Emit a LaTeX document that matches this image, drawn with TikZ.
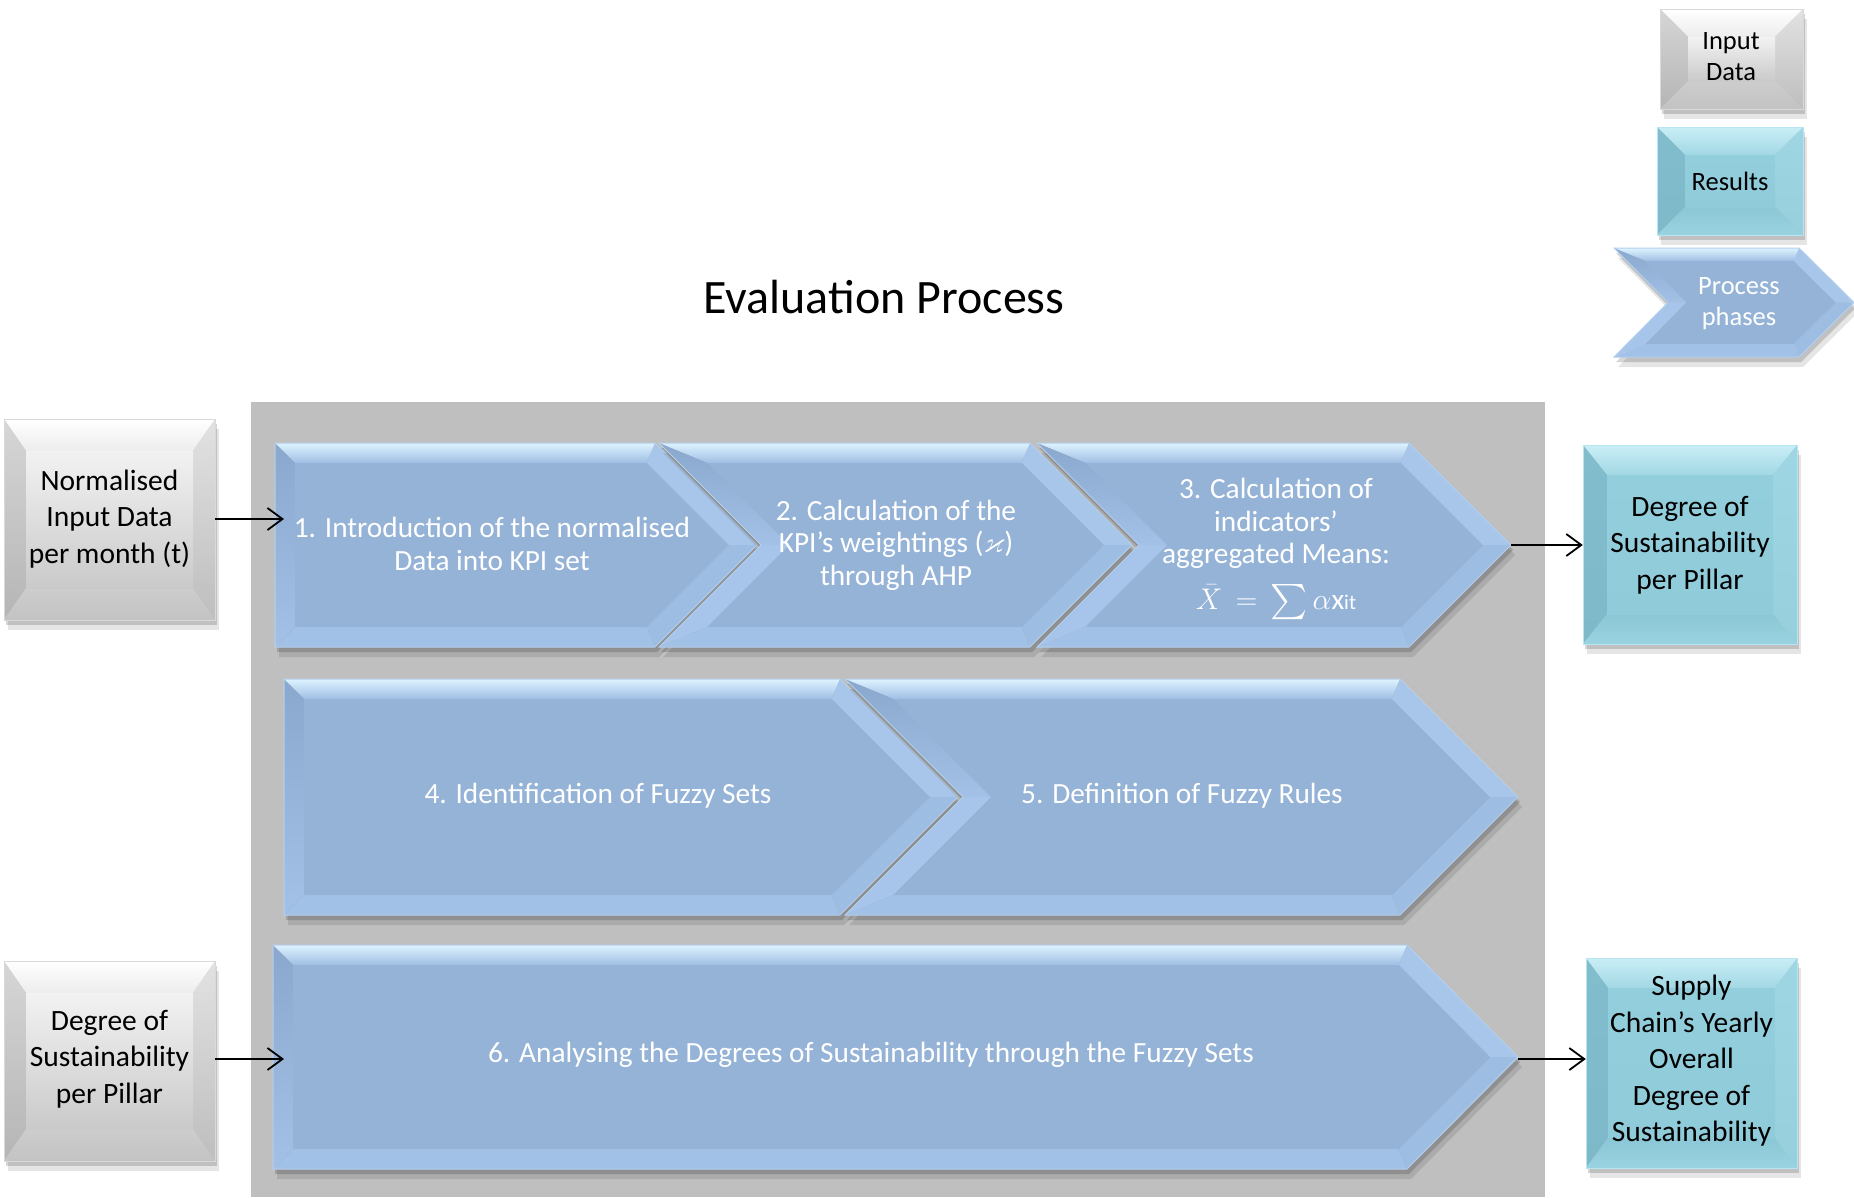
\documentclass[tikz,border=0pt]{standalone}
\usepackage{fontspec}
\setmainfont{Carlito}
\usepackage{amssymb}
\usetikzlibrary{arrows.meta,calc}

\definecolor{panel}{HTML}{BFBFBF}
\definecolor{chFace}{HTML}{95B3D7}
\definecolor{chTopA}{HTML}{DDF3FF}
\definecolor{chTopB}{HTML}{9FBEE3}
\definecolor{chUL}{HTML}{8AA8CE}
\definecolor{chULb}{HTML}{A3C1E6}
\definecolor{chLL}{HTML}{A7C5EA}
\definecolor{chUR}{HTML}{A8C6EA}
\definecolor{chLR}{HTML}{9EBDE2}
\definecolor{chBot}{HTML}{A2C1E6}
\definecolor{chEdge}{HTML}{B4CFEE}
% gray box palette
\definecolor{gyTA}{HTML}{FFFFFF}\definecolor{gyTB}{HTML}{EDEDED}
\definecolor{gyFA}{HTML}{F2F2F2}\definecolor{gyFB}{HTML}{CACACA}
\definecolor{gyLA}{HTML}{D6D6D6}\definecolor{gyLB}{HTML}{B5B5B5}
\definecolor{gyRA}{HTML}{E2E2E2}\definecolor{gyRB}{HTML}{BEBEBE}
\definecolor{gyBA}{HTML}{CDCDCD}\definecolor{gyBB}{HTML}{C3C3C3}
\definecolor{gyE}{HTML}{D9D9D9}
% teal box palette
\definecolor{tlTA}{HTML}{C9EEF6}\definecolor{tlTB}{HTML}{A2D8E4}
\definecolor{tlFA}{HTML}{93CEDD}\definecolor{tlFB}{HTML}{90CBDA}
\definecolor{tlLA}{HTML}{82BDCD}\definecolor{tlLB}{HTML}{7EB9C9}
\definecolor{tlRA}{HTML}{9FD6E3}\definecolor{tlRB}{HTML}{97CFDD}
\definecolor{tlBA}{HTML}{8BC7D6}\definecolor{tlBB}{HTML}{9AD2E0}
\definecolor{tlE}{HTML}{B7E6F0}

\tikzset{
  boxtext/.style={align=center, font=\fontsize{29.5}{36.5}\selectfont, text=black, inner sep=0pt},
  chevtext/.style={align=center, font=\fontsize{29.3}{32.5}\selectfont, text=white, inner sep=0pt},
  legtext/.style={align=center, font=\fontsize{26.5}{31}\selectfont, text=black, inner sep=0pt},
  titletext/.style={font=\fontsize{48}{56}\selectfont, text=black},
  arr/.style={-{Straight Barb[length=15pt,width=22pt]}, line width=1.8pt, black},
}

% bevelled rectangle: x1 y1 x2 y2 dx dy palette
\newcommand{\bevrect}[7]{%
  \fill[black,opacity=.10] ({#1+4},{#2+10}) rectangle ({#3+4},{#4+10});
  \fill[black,opacity=.16] ({#1+2},{#2+5}) rectangle ({#3+2},{#4+5});
  \shade[top color=#7TA,bottom color=#7TB] (#1,#2) -- (#3,#2) -- ({#3-#5},{#2+#6}) -- ({#1+#5},{#2+#6}) -- cycle;
  \shade[top color=#7LA,bottom color=#7LB] (#1,#2) -- ({#1+#5},{#2+#6}) -- ({#1+#5},{#4-#6}) -- (#1,#4) -- cycle;
  \shade[top color=#7RA,bottom color=#7RB] (#3,#2) -- (#3,#4) -- ({#3-#5},{#4-#6}) -- ({#3-#5},{#2+#6}) -- cycle;
  \shade[top color=#7BA,bottom color=#7BB] (#1,#4) -- ({#1+#5},{#4-#6}) -- ({#3-#5},{#4-#6}) -- (#3,#4) -- cycle;
  \shade[top color=#7FA,bottom color=#7FB] ({#1+#5},{#2+#6}) rectangle ({#3-#5},{#4-#6});
  \draw[#7E,line width=1pt] (#1,#2) rectangle (#3,#4);
}

% flat-backed chevron: L C P T B d
\newcommand{\chevflat}[6]{%
  \coordinate (o1) at (#1,#4); \coordinate (o2) at (#2,#4);
  \coordinate (o3) at (#3,{(#4+#5)/2});
  \coordinate (o4) at (#2,#5); \coordinate (o5) at (#1,#5);
  \coordinate (i1) at ({#1+#6},{#4+#6}); \coordinate (i2) at ({#2-0.414*#6},{#4+#6});
  \coordinate (i3) at ({#3-1.414*#6},{(#4+#5)/2});
  \coordinate (i4) at ({#2-0.414*#6},{#5-#6}); \coordinate (i5) at ({#1+#6},{#5-#6});
  \fill[black,opacity=.10] ({#1+4},{#4+10}) -- ({#2+4},{#4+10}) -- ({#3+4},{(#4+#5)/2+10}) -- ({#2+4},{#5+10}) -- ({#1+4},{#5+10}) -- cycle;
  \fill[black,opacity=.16] ({#1+2},{#4+5}) -- ({#2+2},{#4+5}) -- ({#3+2},{(#4+#5)/2+5}) -- ({#2+2},{#5+5}) -- ({#1+2},{#5+5}) -- cycle;
  \shade[top color=chTopA,bottom color=chTopB] (o1)--(o2)--(i2)--(i1)--cycle;
  \fill[chUR] (o2)--(o3)--(i3)--(i2)--cycle;
  \fill[chLR] (o3)--(o4)--(i4)--(i3)--cycle;
  \fill[chBot] (o4)--(o5)--(i5)--(i4)--cycle;
  \shade[top color=chUL,bottom color=chULb] (o5)--(o1)--(i1)--(i5)--cycle;
  \fill[chFace] (i1)--(i2)--(i3)--(i4)--(i5)--cycle;
  \draw[chEdge,line width=1pt] (o1)--(o2)--(o3)--(o4)--(o5)--cycle;
}

% notched chevron: L N C P T B d
\newcommand{\chevnotch}[7]{%
  \coordinate (o1) at (#1,#5); \coordinate (o2) at (#3,#5);
  \coordinate (o3) at (#4,{(#5+#6)/2});
  \coordinate (o4) at (#3,#6); \coordinate (o5) at (#1,#6);
  \coordinate (o6) at (#2,{(#5+#6)/2});
  \coordinate (i1) at ({#1+2.414*#7},{#5+#7}); \coordinate (i2) at ({#3-0.414*#7},{#5+#7});
  \coordinate (i3) at ({#4-1.414*#7},{(#5+#6)/2});
  \coordinate (i4) at ({#3-0.414*#7},{#6-#7}); \coordinate (i5) at ({#1+2.414*#7},{#6-#7});
  \coordinate (i6) at ({#2+1.414*#7},{(#5+#6)/2});
  \fill[black,opacity=.10] ({#1+4},{#5+10}) -- ({#3+4},{#5+10}) -- ({#4+4},{(#5+#6)/2+10}) -- ({#3+4},{#6+10}) -- ({#1+4},{#6+10}) -- ({#2+4},{(#5+#6)/2+10}) -- cycle;
  \fill[black,opacity=.16] ({#1+2},{#5+5}) -- ({#3+2},{#5+5}) -- ({#4+2},{(#5+#6)/2+5}) -- ({#3+2},{#6+5}) -- ({#1+2},{#6+5}) -- ({#2+2},{(#5+#6)/2+5}) -- cycle;
  \shade[top color=chTopA,bottom color=chTopB] (o1)--(o2)--(i2)--(i1)--cycle;
  \fill[chUR] (o2)--(o3)--(i3)--(i2)--cycle;
  \fill[chLR] (o3)--(o4)--(i4)--(i3)--cycle;
  \fill[chBot] (o4)--(o5)--(i5)--(i4)--cycle;
  \fill[chLL] (o5)--(o6)--(i6)--(i5)--cycle;
  \shade[top color=chUL,bottom color=chULb] (o6)--(o1)--(i1)--(i6)--cycle;
  \fill[chFace] (i1)--(i2)--(i3)--(i4)--(i5)--(i6)--cycle;
  \draw[chEdge,line width=1pt] (o1)--(o2)--(o3)--(o4)--(o5)--(o6)--cycle;
}

\begin{document}
\begin{tikzpicture}[x=1pt,y=-1pt]
\useasboundingbox (0,0) rectangle (1854,1197);
\fill[white] (0,0) rectangle (1854,1197);

% title
\node[titletext] (title) at (884,297) {Evaluation Process};

% legend
\bevrect{1660}{9}{1803}{109}{28}{28}{gy}
\node[legtext] (lgin) at (1731,57) {Input\\Data};
\bevrect{1657}{127}{1803}{235}{28}{28}{tl}
\node[legtext] (lgres) at (1730,181) {Results};
\chevnotch{1614}{1668}{1799}{1854}{248}{357}{13}
\node[legtext,text=white] (lgproc) at (1739,304) {Process\\phases};

% grey panel
\fill[panel] (251,402) rectangle (1545,1197);

% row 1
\chevflat{275}{655}{757}{443}{647}{20}
\chevnotch{659}{761}{1030}{1132}{443}{647}{20}
\chevnotch{1037}{1139}{1409}{1511}{443}{647}{20}
\node[chevtext] (c1) at (492,544) {1. Introduction of the normalised\\Data into KPI set};
\node[chevtext] (c2) at (896,545) {2. Calculation of the\\KPI’s weightings ($\varkappa$)\\through AHP};
\node[chevtext] (c3) at (1276,549) {3. Calculation of\\indicators’\\aggregated Means:\\[13pt]\scalebox{1.2}{$\bar{X}\,=\,\sum\alpha$}x{\fontsize{21}{25}\selectfont it}};
\coordinate (c1in) at (284,519);
\coordinate (c3tip) at (1511,545);

% row 2
\chevflat{284}{840}{958}{679}{915}{20}
\chevnotch{845}{963}{1400}{1518}{679}{915}{20}
\node[chevtext] (c4) at (598,796) {4. Identification of Fuzzy Sets};
\node[chevtext] (c5) at (1182,796) {5. Definition of Fuzzy Rules};

% row 3
\chevflat{273}{1407}{1518}{945}{1169}{20}
\node[chevtext] (c6) at (871,1055) {6. Analysing the Degrees of Sustainability through the Fuzzy Sets};
\coordinate (c6in) at (284,1059);
\coordinate (c6tip) at (1518,1059);

% input boxes (left)
\bevrect{4}{419}{215}{620}{22}{32}{gy}
\node[boxtext, minimum width=211pt, minimum height=201pt] (lb1) at (109.5,519) {Normalised\\Input Data\\per month (t)};
\bevrect{4}{961}{215}{1161}{22}{32}{gy}
\node[boxtext, minimum width=211pt, minimum height=200pt] (lb2) at (109.5,1059) {Degree of\\Sustainability\\per Pillar};

% result boxes (right)
\bevrect{1583}{445}{1797}{644}{24}{30}{tl}
\node[boxtext, minimum width=214pt, minimum height=199pt] (rb1) at (1690,545) {Degree of\\Sustainability\\per Pillar};
\bevrect{1586}{958}{1797}{1168}{22}{30}{tl}
\node[boxtext, minimum width=211pt, minimum height=210pt] (rb2) at (1691.5,1061) {Supply\\Chain’s Yearly\\Overall\\Degree of\\Sustainability};

% connectors
\draw[arr] (lb1.east) -- (c1in);
\draw[arr] (c3tip) -- (c3tip -| rb1.west);
\draw[arr] (lb2.east) -- (c6in);
\draw[arr] (c6tip) -- (c6tip -| rb2.west);
\end{tikzpicture}
\end{document}
